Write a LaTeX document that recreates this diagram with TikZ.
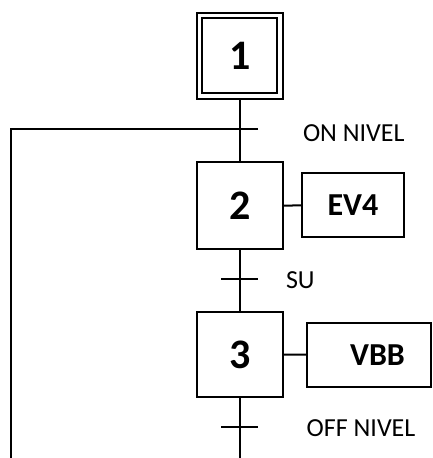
\documentclass[tikz,border=0pt]{standalone}
\usepackage{fontspec}
\setmainfont{Carlito}
\begin{document}
\begin{tikzpicture}[x=1pt,y=-1pt,line width=2pt,
  stepbox/.style={draw,rectangle,inner sep=0pt,minimum width=86pt,minimum height=86pt,font=\fontsize{42}{42}\selectfont\bfseries},
  actbox/.style={draw,rectangle,inner sep=0pt,minimum height=64pt,font=\fontsize{32}{32}\selectfont\bfseries},
  lbl/.style={anchor=west,inner sep=0pt,font=\fontsize{26}{26}\selectfont}]
\useasboundingbox (0,0) rectangle (432,458);
% step 1 (initial, double frame)
\node[stepbox,minimum width=86pt,minimum height=86.3pt] (s1) at (239.7,55.8) {};
\node[draw,rectangle,inner sep=0pt,minimum width=74.7pt,minimum height=74.4pt,font=\fontsize{42}{42}\selectfont\bfseries] (s1i) at (239.7,55.6) {1};
% steps 2 and 3
\node[stepbox,minimum height=87pt] (s2) at (239.7,205.7) {2};
\node[stepbox,minimum height=85.7pt] (s3) at (239.7,354.5) {3};
% actions
\node[actbox,minimum width=102pt] (a2) at (353,205.3) {EV4};
\node[actbox,minimum width=124pt] (a3) at (369,354.7) {\hspace*{17pt}VBB};
\draw (s2.east) -- (a2.west);
\draw (s3.east) -- (a3.west);
% transitions
\coordinate (t1l) at (221,129);
\coordinate (t1r) at (258,129);
\coordinate (t2l) at (221,279);
\coordinate (t2r) at (258,279);
\coordinate (t3l) at (221,427.3);
\coordinate (t3r) at (258,427.3);
\coordinate (bot) at (239.7,458);
\coordinate (fb) at (11,458);
\draw (s1.south) -- (s2.north);
\draw (s2.south) -- (s3.north);
\draw (s3.south) -- (bot);
\draw (t1r) -| (fb);
\draw (t2l) -- (t2r);
\draw (t3l) -- (t3r);
% labels
\node[lbl] (l1) at (302,133.3) {ON NIVEL};
\node[lbl] (l2) at (285,280) {SU};
\node[lbl] (l3) at (305.7,428) {OFF NIVEL};
\end{tikzpicture}
\end{document}
